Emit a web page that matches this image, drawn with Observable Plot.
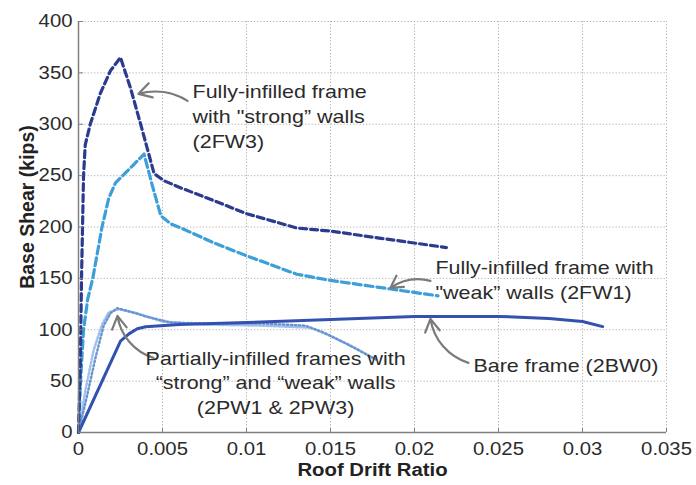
<!DOCTYPE html>
<html><head><meta charset="utf-8">
<script src="https://cdn.jsdelivr.net/npm/d3@7"></script>
<script src="https://cdn.jsdelivr.net/npm/@observablehq/plot@0.6"></script>
<style>body{margin:0;background:#fff}</style>
</head><body><div id="chart"></div>
<script>
// ---- data ----
const drift2FW3 = [0,0.0001,0.00018,0.00024,0.0003,0.0004,0.0007,0.0013,0.0019,0.0025,0.0031,0.0037,0.0045,0.0051,0.0061,0.008,0.01,0.013,0.015,0.018,0.0219];
const shear2FW3 = [0,60,150,200,250,280,300,330,352,365,335,300,252,245,238,226,213,199,196,189,180];

const drift2FW1 = [0,0.00012,0.0003,0.00055,0.00085,0.0014,0.0018,0.0022,0.003,0.0039,0.0044,0.0049,0.0055,0.0061,0.008,0.01,0.013,0.015,0.018,0.0214];
const shear2FW1 = [0,50,100,130,150,200,228,243,256,271,240,211,203,199,185,172,154,148,141,133];

const drift2BW0 = [0,0.0025,0.003,0.0035,0.004,0.006,0.01,0.015,0.02,0.025,0.028,0.03,0.0312];
const shear2BW0 = [0,89,96,101,103,105,107,110,113,113,111,108,103];

const drift2PW1 = [0,0.0005,0.001,0.0015,0.0019,0.0023,0.003,0.004,0.0055,0.008,0.011,0.0135,0.0145,0.016,0.0177];
const shear2PW1 = [0,35,72,104,116,121,118,113,107,106,106,104,98,86,71];

const drift2PW3 = [0,0.0004,0.0009,0.0014,0.0018,0.0024,0.0035,0.005,0.0075,0.011,0.0138,0.015,0.0165,0.0175];
const shear2PW3 = [0,40,80,105,117,120,116,108,105,104,102,94,82,73];

const xTicks = [0,0.005,0.01,0.015,0.02,0.025,0.03,0.035];
const xTickLabels = ["0","0.005","0.01","0.015","0.02","0.025","0.03","0.035"];
const yTicks = [0,50,100,150,200,250,300,350,400];
const yTickLabels = ["0","50","100","150","200","250","300","350","400"];

const annText = [
  "Fully-infilled frame\nwith \"strong\u201D walls\n(2FW3)",
  "Fully-infilled frame with\n\"weak\u201D walls (2FW1)",
  "Bare frame (2BW0)",
  "Partially-infilled frames with\n\u201Cstrong\u201D and \u201Cweak\u201D walls\n(2PW1 & 2PW3)"
];
const annDrift = [0.00679, 0.02125, 0.02351, 0.01173];
const annShear = [277.1, 129.8, 58.4, 18.2];

// arrows: [tailDrift, tailShear, headDrift, headShear]
const arrowUp = [
  [0.00649, 322.8, 0.00357, 329.6],
  [0.02095, 147.6, 0.01857, 140.8]
];
const arrowDown = [
  [0.02321, 67.8, 0.02095, 110.6],
  [0.00446, 72.6, 0.00232, 113.5]
];

const rows = (name, xs, ys) => xs.map((x, i) => ({series: name, drift: x, shear: ys[i]}));
const d2FW3 = rows("2FW3", drift2FW3, shear2FW3);
const d2FW1 = rows("2FW1", drift2FW1, shear2FW1);
const d2BW0 = rows("2BW0", drift2BW0, shear2BW0);
const d2PW1 = rows("2PW1", drift2PW1, shear2PW1);
const d2PW3 = rows("2PW3", drift2PW3, shear2PW3);
const ann = annText.map((t, i) => ({t, x: annDrift[i], y: annShear[i]}));

const font = "'Liberation Sans', Arial, sans-serif";
const textColor = "#2b2b2b";
const arrowColor = "#7a7a7a";

const chart = Plot.plot({
  width: 696,
  height: 485,
  marginLeft: 78,
  marginRight: 30,
  marginTop: 21,
  marginBottom: 53,
  style: {fontFamily: font, fontSize: "18px", background: "white", color: textColor},
  x: {domain: [0, 0.035]},
  y: {domain: [0, 400]},
  marks: [
    Plot.gridX(xTicks.slice(1), {stroke: "#b0b0b0", strokeOpacity: 1, strokeWidth: 1, strokeDasharray: "1.2,2"}),
    Plot.gridY(yTicks.slice(1), {stroke: "#b0b0b0", strokeOpacity: 1, strokeWidth: 1, strokeDasharray: "1.2,2"}),
    Plot.line(d2PW3, {x: "drift", y: "shear", stroke: "#9fc2ec", strokeWidth: 2.6, strokeDasharray: "1.5,2.2"}),
    Plot.line(d2PW1, {x: "drift", y: "shear", stroke: "#6a93d2", strokeWidth: 2.4, strokeDasharray: "1.5,2.5"}),
    Plot.line(d2BW0, {x: "drift", y: "shear", stroke: "#3352b0", strokeWidth: 3}),
    Plot.line(d2FW1, {x: "drift", y: "shear", stroke: "#3c9fd8", strokeWidth: 3.2, strokeDasharray: "8,4"}),
    Plot.line(d2FW3, {x: "drift", y: "shear", stroke: "#2b3b8e", strokeWidth: 3.2, strokeDasharray: "7,4"}),
    Plot.ruleY([0], {stroke: "#808080", strokeWidth: 1.5}),
    Plot.ruleX([0], {stroke: "#808080", strokeWidth: 1.5}),
    Plot.ruleX(xTicks.slice(1), {x: d => d, y1: 0, y2: 4, stroke: "#808080", strokeWidth: 1}),
    Plot.ruleY(yTicks.slice(1), {y: d => d, x1: 0, x2: 0.0003, stroke: "#808080", strokeWidth: 1}),
    Plot.axisX({ticks: xTicks, tickFormat: (d, i) => xTickLabels[i], tickSize: 0, tickPadding: 10, fontSize: 18, label: null, fill: textColor}),
    Plot.axisY({ticks: yTicks, tickFormat: (d, i) => yTickLabels[i], tickSize: 0, tickPadding: 6, fontSize: 18, label: null, fill: textColor}),
    Plot.text(["Roof Drift Ratio"], {frameAnchor: "bottom", textAnchor: "middle", dy: 43, lineAnchor: "bottom", fontWeight: "bold", fontSize: 18, fill: "#222"}),
    Plot.text(["Base Shear (kips)"], {frameAnchor: "left", textAnchor: "middle", dx: -45, dy: -20, rotate: -90, lineAnchor: "bottom", fontWeight: "bold", fontSize: 19.5, fill: "#222"}),
    Plot.arrow(arrowUp, {x1: d => d[0], y1: d => d[1], x2: d => d[2], y2: d => d[3], bend: -24, stroke: arrowColor, strokeWidth: 2.2, headLength: 10}),
    Plot.arrow(arrowDown, {x1: d => d[0], y1: d => d[1], x2: d => d[2], y2: d => d[3], bend: 32, stroke: arrowColor, strokeWidth: 2.2, headLength: 10}),
    Plot.text(ann.slice(0, 3), {x: "x", y: "y", text: "t", textAnchor: "start", lineAnchor: "bottom", lineHeight: 1.32, fontSize: 19, fill: textColor}),
    Plot.text(ann.slice(3), {x: "x", y: "y", text: "t", textAnchor: "middle", lineAnchor: "bottom", lineHeight: 1.28, fontSize: 19, fill: textColor})
  ]
});

// the reference image is horizontally stretched: widen unrotated text accordingly
d3.select(chart).selectAll("text").each(function() {
  const t = this.getAttribute("transform") || "";
  if (t.includes("rotate")) return;
  this.setAttribute("transform", t + " scale(1.13,1)");
});

document.getElementById("chart").appendChild(chart);
</script>
</body></html>
